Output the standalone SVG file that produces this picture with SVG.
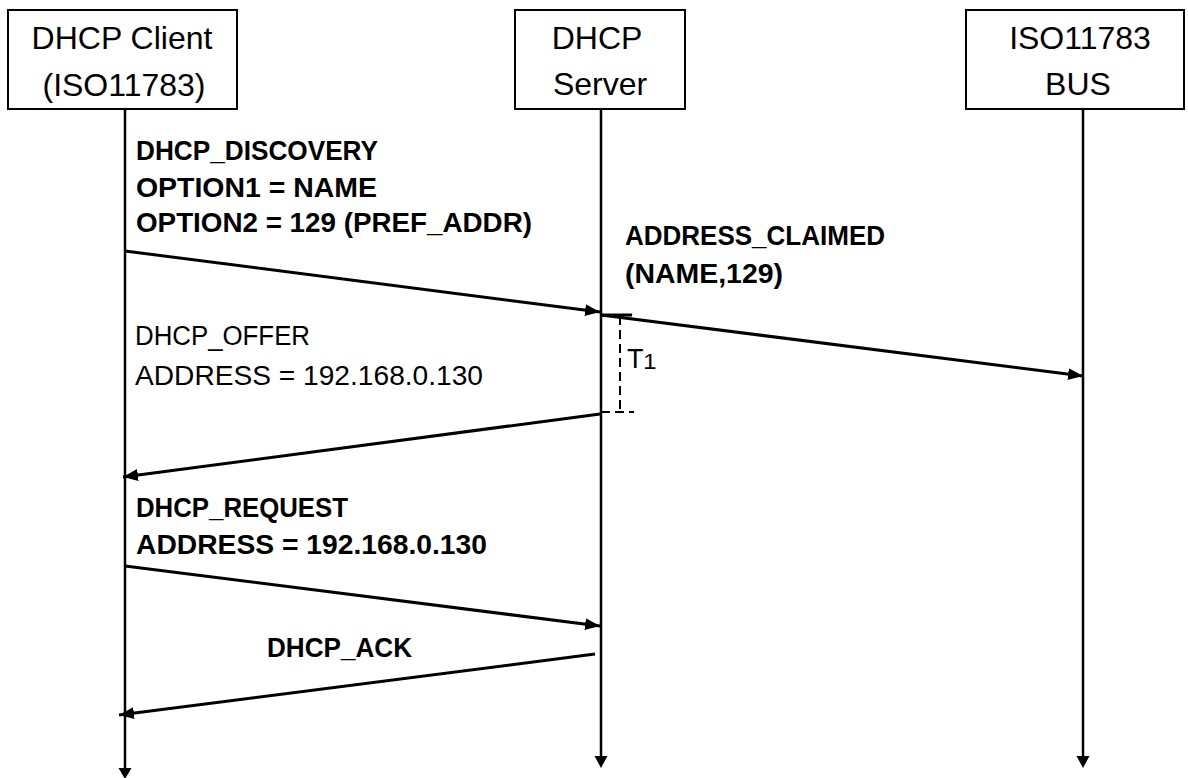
<svg xmlns="http://www.w3.org/2000/svg" width="1188" height="778" viewBox="0 0 1188 778">
  <defs>
    <marker id="msgHead" markerUnits="userSpaceOnUse" markerWidth="16" markerHeight="12" refX="15" refY="6" orient="auto">
      <path d="M0,0 L15,6 L0,12 Z" fill="#000"/>
    </marker>
    <style>
      .box { fill: #fff; stroke: #000; stroke-width: 2; }
      .title { font-family: "Liberation Sans", Arial, sans-serif; font-size: 32px; fill: #000; text-anchor: middle; }
      .lbl { font-family: "Liberation Sans", Arial, sans-serif; font-size: 27px; fill: #000; }
      .b { font-weight: bold; }
      .life { stroke: #000; stroke-width: 2.5; fill: none; }
      .msg { stroke: #000; stroke-width: 3; fill: none; marker-end: url(#msgHead); }
      .dash { stroke: #000; stroke-width: 2; stroke-dasharray: 9 5; fill: none; }
      .head { fill: #000; }
    </style>
  </defs>
  <rect width="1188" height="778" fill="#fff"/>

  <!-- participants -->
  <g id="client">
    <rect class="box" x="8" y="10" width="229" height="99"/>
    <text class="title" x="122" y="49">DHCP Client</text>
    <text class="title" x="124" y="96">(ISO11783)</text>
  </g>
  <g id="server">
    <rect class="box" x="515" y="10" width="170" height="99"/>
    <text class="title" x="597" y="49">DHCP</text>
    <text class="title" x="600" y="95">Server</text>
  </g>
  <g id="bus">
    <rect class="box" x="966" y="10" width="218" height="99"/>
    <text class="title" x="1080" y="49">ISO11783</text>
    <text class="title" x="1078" y="95">BUS</text>
  </g>

  <!-- lifelines -->
  <g id="lifelines">
    <line class="life" x1="125" y1="109" x2="125" y2="770"/>
    <path class="head" d="M118.5,768 L131.5,768 L125,779 Z"/>
    <line class="life" x1="601" y1="109" x2="601" y2="758"/>
    <path class="head" d="M594.5,756 L607.5,756 L601,768 Z"/>
    <line class="life" x1="1083" y1="109" x2="1083" y2="758"/>
    <path class="head" d="M1076.5,756 L1089.5,756 L1083,768 Z"/>
  </g>

  <!-- messages -->
  <g id="connectors">
    <line class="msg" x1="125" y1="251" x2="600" y2="312"/>
    <line class="msg" x1="601" y1="315" x2="1083" y2="376"/>
    <line class="msg" x1="600" y1="414" x2="123" y2="477"/>
    <line class="msg" x1="125" y1="566" x2="600" y2="626"/>
    <line class="msg" x1="595" y1="654" x2="119" y2="715"/>
    <!-- T1 interval bracket -->
    <line class="dash" x1="620" y1="316" x2="620" y2="412"/>
    <line stroke="#000" stroke-width="3" x1="601" y1="315" x2="632" y2="315"/>
    <line class="dash" x1="601" y1="412" x2="634" y2="412"/>
  </g>

  <!-- message labels -->
  <g id="labels">
    <text class="lbl b" x="136" y="160" textLength="242" lengthAdjust="spacingAndGlyphs">DHCP_DISCOVERY</text>
    <text class="lbl b" x="136" y="197" textLength="241" lengthAdjust="spacingAndGlyphs">OPTION1 = NAME</text>
    <text class="lbl b" x="136" y="232" textLength="396" lengthAdjust="spacingAndGlyphs">OPTION2 = 129 (PREF_ADDR)</text>
    <text class="lbl b" x="625" y="245" textLength="260" lengthAdjust="spacingAndGlyphs">ADDRESS_CLAIMED</text>
    <text class="lbl b" x="625" y="283" textLength="158" lengthAdjust="spacingAndGlyphs">(NAME,129)</text>
    <text class="lbl" x="627" y="368" font-size="32">T<tspan font-size="38" dy="-2">₁</tspan></text>
    <text class="lbl" x="135" y="345" textLength="175" lengthAdjust="spacingAndGlyphs">DHCP_OFFER</text>
    <text class="lbl" x="135" y="385" textLength="348" lengthAdjust="spacingAndGlyphs">ADDRESS = 192.168.0.130</text>
    <text class="lbl b" x="136" y="517" textLength="212" lengthAdjust="spacingAndGlyphs">DHCP_REQUEST</text>
    <text class="lbl b" x="136" y="554" textLength="351" lengthAdjust="spacingAndGlyphs">ADDRESS = 192.168.0.130</text>
    <text class="lbl b" x="267" y="657" textLength="145" lengthAdjust="spacingAndGlyphs">DHCP_ACK</text>
  </g>
</svg>
